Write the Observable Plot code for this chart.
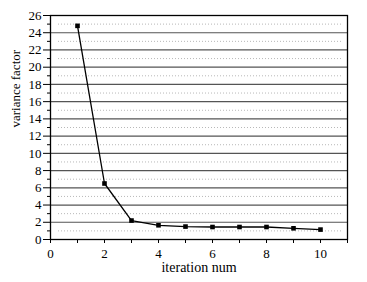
<!DOCTYPE html>
<html>
<head>
<meta charset="utf-8">
<script src="https://cdn.jsdelivr.net/npm/d3@7"></script>
<script src="https://cdn.jsdelivr.net/npm/@observablehq/plot@0.6"></script>
<style>
  html, body { margin: 0; padding: 0; background: #fff; }
</style>
</head>
<body>
<div id="chart"></div>
<script>
const iterations = [1, 2, 3, 4, 5, 6, 7, 8, 9, 10];
const varianceFactor = [24.8, 6.5, 2.2, 1.65, 1.5, 1.45, 1.45, 1.45, 1.3, 1.15];
const yMajorTicks = [0, 2, 4, 6, 8, 10, 12, 14, 16, 18, 20, 22, 24, 26];
const yMinorTicks = [1, 3, 5, 7, 9, 11, 13, 15, 17, 19, 21, 23, 25];
const xMajorTicks = [0, 2, 4, 6, 8, 10];
const xMinorTicks = [1, 3, 5, 7, 9, 11];
const xLabel = "iteration num";
const yLabel = "variance factor";

const data = iterations.map((x, i) => ({x, y: varianceFactor[i]}));
const gridMajor = yMajorTicks.filter(v => v > 0 && v < 26);

const chart = Plot.plot({
  width: 367,
  height: 282,
  marginLeft: 50,
  marginRight: 20,
  marginTop: 15,
  marginBottom: 43,
  style: {fontFamily: "Liberation Serif", fontSize: "13px", color: "black", background: "white"},
  x: {domain: [0, 11]},
  y: {domain: [0, 26]},
  marks: [
    Plot.ruleY(yMinorTicks, {stroke: "#b8b8b8", strokeWidth: 1, strokeDasharray: "1,2", insetLeft: 8, insetRight: 4}),
    Plot.ruleY(gridMajor, {stroke: "#555", strokeWidth: 1.2}),
    Plot.frame({stroke: "black", strokeWidth: 1.3}),
    Plot.axisY(yMajorTicks, {tickSize: 7, tickPadding: 2, label: null, tickFormat: d => d, fontSize: 13}),
    Plot.axisY(yMinorTicks, {tickSize: 3, text: null, label: null}),
    Plot.axisX(xMajorTicks, {tickSize: 4, tickPadding: 5, label: null, tickFormat: d => d, fontSize: 13}),
    Plot.axisX(xMinorTicks, {tickSize: 4, text: null, label: null}),
    Plot.line(data, {x: "x", y: "y", stroke: "black", strokeWidth: 1.3}),
    Plot.dot(data, {x: "x", y: "y", symbol: "square", r: 2.6, fill: "black", stroke: "none"}),
    Plot.text([xLabel], {frameAnchor: "bottom", dy: 32, fontSize: 14, fill: "black"}),
    Plot.text([yLabel], {frameAnchor: "left", dx: -35, rotate: -90, fontSize: 13, fill: "black"})
  ]
});
document.getElementById("chart").appendChild(chart);
</script>
</body>
</html>
